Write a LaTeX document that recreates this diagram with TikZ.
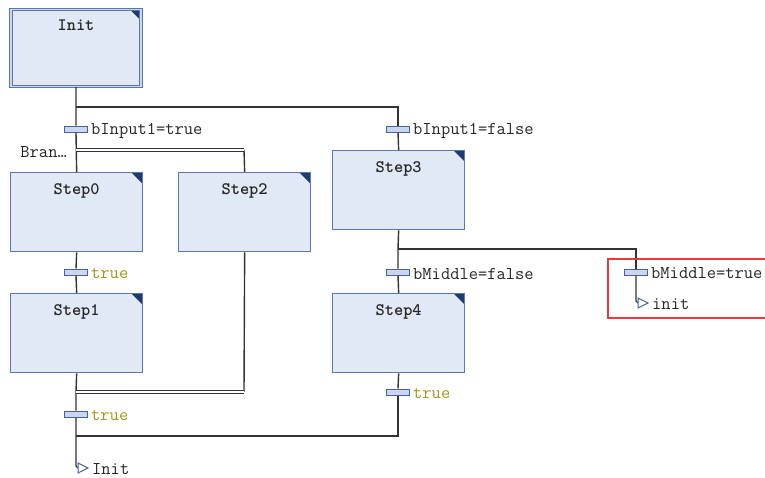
\documentclass[tikz,border=0pt]{standalone}
\usepackage{fontspec}
\definecolor{stepfill}{HTML}{E1E9F6}
\definecolor{stepdraw}{HTML}{5A78AA}
\definecolor{cornerc}{HTML}{1F3A70}
\definecolor{linec}{HTML}{333333}
\definecolor{transfill}{HTML}{C9D6EE}
\definecolor{transdraw}{HTML}{4662A0}
\definecolor{olive}{HTML}{A89418}
\definecolor{txt}{HTML}{262626}
\definecolor{redbox}{HTML}{E83A3A}
\begin{document}
\begin{tikzpicture}[x=1pt,y=-1pt,
  stepbox/.style={draw=stepdraw, fill=stepfill, line width=1.3pt, minimum width=132pt,
    minimum height=79pt, anchor=north west, inner sep=0pt,
    path picture={\fill[cornerc] (path picture bounding box.north east) -- ++(-11pt,0pt) -- ++(11pt,-11pt) -- cycle;}},
  stepname/.style={font=\ttfamily\bfseries\fontsize{17.5}{20}\selectfont, text=txt, anchor=base},
  trans/.style={draw=transdraw, fill=transfill, line width=1pt, minimum width=23pt,
    minimum height=6pt, inner sep=0pt},
  lbl/.style={font=\ttfamily\fontsize{18}{20}\selectfont, text=txt, inner sep=0pt, anchor=west, xshift=3pt, yshift=-1.5pt},
  lbltrue/.style={lbl, text=olive},
  conn/.style={draw=linec, line width=1.4pt},
  dbl/.style={draw=linec, line width=1.1pt, double=white, double distance=1.6pt},
  jumpc/.style={draw=transdraw, line width=1pt, fill=white},
  jlbl/.style={font=\ttfamily\fontsize{18}{20}\selectfont, text=txt, inner sep=0pt, anchor=west, yshift=-1pt}
]
\useasboundingbox (0,0) rectangle (765,477);

% Init step (double border)
\node[stepbox, draw=stepdraw, double=transfill, double distance=1.6pt, line width=1.1pt,
      minimum width=130pt, minimum height=77pt] (init) at (10.5,9) {};
\node[stepname] (initname) at ([yshift=-21pt]init.north) {Init};

% steps
\node[stepbox] (step0) at (10,172) {};
\node[stepbox] (step2) at (178,172) {};
\node[stepbox] (step3) at (332,150) {};
\node[stepbox] (step1) at (10,293) {};
\node[stepbox] (step4) at (332,293) {};
\node[stepname] (n0) at ([yshift=-22pt]step0.north) {Step0};
\node[stepname] (n2) at ([yshift=-22pt]step2.north) {Step2};
\node[stepname] (n3) at ([yshift=-22pt]step3.north) {Step3};
\node[stepname] (n1) at ([yshift=-22pt]step1.north) {Step1};
\node[stepname] (n4) at ([yshift=-22pt]step4.north) {Step4};

% transitions
\node[trans, label={[lbl]east:bInput1=true}] (t1) at (76,129) {};
\node[trans, label={[lbl]east:bInput1=false}] (t3) at (398,129) {};
\node[trans, label={[lbltrue]east:true}] (t0) at (76,272) {};
\node[trans, label={[lbl]east:bMiddle=false}] (t4) at (398,272) {};
\node[trans, label={[lbl]east:bMiddle=true}] (t5) at (636,272) {};
\node[trans, label={[lbltrue]east:true}] (t6) at (398,392) {};
\node[trans, label={[lbltrue]east:true}] (tb) at (76,414) {};

% junction coordinates
\coordinate (j1) at (76,107);
\coordinate (j1r) at (398,107);
\coordinate (br1) at (76,150);
\coordinate (br1r) at (244,150);
\coordinate (br2) at (76,392);
\coordinate (br2r) at (244,392);
\coordinate (j2) at (76,436);
\coordinate (j2r) at (398,436);
\coordinate (j3) at (398,249);
\coordinate (j3r) at (636,249);

% branch label
\node[font=\ttfamily\fontsize{18}{20}\selectfont, text=txt, inner sep=0pt, anchor=base east] (bran) at (67,157) {Bran…};

% jumps
\node[jlbl] (jinit) at (92,468) {Init};
\node[jlbl] (jinit2) at (652,303) {init};
\coordinate (jt1) at (78,468);
\coordinate (jt2) at (638,303);

% connectors
\draw[conn] (init.south) -- (j1) -- (t1.north);
\draw[conn] (t1.south) -- (step0.north);
\draw[conn] (j1) -- (j1r) -- (t3.north);
\draw[conn] (t3.south) -- (step3.north);
\draw[conn] (br1r) -- (step2.north);
\draw[dbl] (br1) -- (br1r);
\draw[conn] (step0.south) -- (t0.north);
\draw[conn] (t0.south) -- (step1.north);
\draw[conn] (step1.south) -- (br2) -- (tb.north);
\draw[conn] (step2.south) -- (br2r);
\draw[dbl] (br2) -- (br2r);
\draw[conn] (tb.south) -- (j2) -- (76,466) -- (jt1);
\draw[conn] (step3.south) -- (j3) -- (t4.north);
\draw[conn] (t4.south) -- (step4.north);
\draw[conn] (j3) -- (j3r) -- (t5.north);
\draw[conn] (t5.south) -- (636,301) -- (jt2);
\draw[conn] (step4.south) -- (t6.north);
\draw[conn] (t6.south) -- (j2r) -- (j2);

% jump triangles
\draw[jumpc] (jt1) ++(0pt,5pt) -- ++(10pt,-5pt) -- ++(-10pt,-5pt) -- cycle;
\draw[jumpc] (jt2) ++(0pt,5pt) -- ++(10pt,-5pt) -- ++(-10pt,-5pt) -- cycle;

% highlight box
\draw[redbox, line width=2.8pt] (608,259) rectangle (772,318);
\end{tikzpicture}
\end{document}
